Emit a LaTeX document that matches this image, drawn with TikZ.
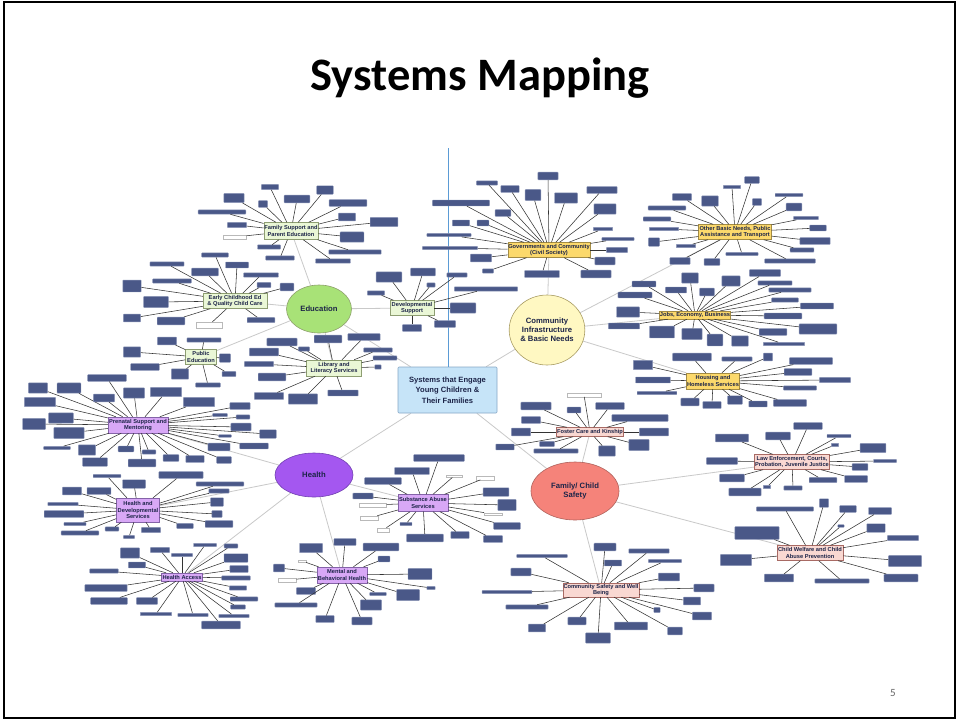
\documentclass[tikz,border=0pt]{standalone}
\usepackage{fontspec}
\setmainfont{Liberation Sans}
\newfontfamily\titlefont{Carlito}
\usetikzlibrary{shapes.geometric}
\pgfdeclarelayer{bg}
\pgfsetlayers{bg,main}
\definecolor{leaffill}{HTML}{4A5888}
\definecolor{leafedge}{HTML}{8E98BA}
\definecolor{linkgray}{HTML}{C9C9C9}
\definecolor{navytext}{HTML}{1C2448}
\definecolor{centerfill}{HTML}{C6E4F8}
\definecolor{centeredge}{HTML}{86A8C6}
\definecolor{edufill}{HTML}{A8E277}
\definecolor{eduedge}{HTML}{8EA06C}
\definecolor{comfill}{HTML}{FFF8C2}
\definecolor{comedge}{HTML}{A89C62}
\definecolor{heafill}{HTML}{A457F0}
\definecolor{heaedge}{HTML}{7040B0}
\definecolor{famfill}{HTML}{F5837A}
\definecolor{famedge}{HTML}{B0625C}
\definecolor{eduhubfill}{HTML}{EAF7D6}
\definecolor{eduhubedge}{HTML}{8E9E72}
\definecolor{comhubfill}{HTML}{FCD96C}
\definecolor{comhubedge}{HTML}{A48C44}
\definecolor{heahubfill}{HTML}{D8A8F6}
\definecolor{heahubedge}{HTML}{8463A8}
\definecolor{famhubfill}{HTML}{F9D8D2}
\definecolor{famhubedge}{HTML}{A86A64}
\definecolor{vline}{HTML}{5B9BD5}
\newcommand\hubleaves[3][leaf]{%
  \foreach \lx/\ly/\lw/\lh [count=\li] in {#3}{%
    \node[#1, minimum width=0.92*\lw pt, minimum height=0.85*\lh pt] (#2-#1-\li) at (\lx,\ly) {};
    \draw[leafline] (#2) -- (#2-#1-\li);
  }}
\begin{document}
\begin{tikzpicture}[x=1pt,y=-1pt,
  leaf/.style={draw=leafedge, fill=leaffill, line width=0.4pt, rounded corners=0.6pt, inner sep=0pt},
  leaflight/.style={draw=gray!55, fill=white, line width=0.35pt, inner sep=0pt},
  leafline/.style={draw=black!80, line width=0.55pt},
  link/.style={draw=linkgray, line width=0.8pt},
  hub/.style={draw, line width=0.45pt, inner sep=0.5pt, align=center, text=navytext,
    font=\bfseries\fontsize{5.7}{6.6}\selectfont},
  eduhub/.style={hub, fill=eduhubfill, draw=eduhubedge},
  comhub/.style={hub, fill=comhubfill, draw=comhubedge},
  heahub/.style={hub, fill=heahubfill, draw=heahubedge},
  famhub/.style={hub, fill=famhubfill, draw=famhubedge},
  cat/.style={ellipse, inner sep=0pt, line width=0.6pt, align=center, text=navytext,
    font=\bfseries\fontsize{7.7}{9.2}\selectfont}]
\useasboundingbox (0,0) rectangle (959,721);
\begin{pgfonlayer}{bg}
\fill[white] (0,0) rectangle (959,721);
\end{pgfonlayer}
\draw[black, line width=1.2pt] (4,2) rectangle (955,718);
\node[font=\titlefont\bfseries\fontsize{46.5}{50}\selectfont] (title) at (480,78) {Systems Mapping};
\node[font=\titlefont\fontsize{11}{12}\selectfont, text=black!60] (pnum) at (893,693) {5};

% centre and categories
\node[draw=centeredge, fill=centerfill, line width=0.6pt, rounded corners=1pt,
  minimum width=99pt, minimum height=46pt, inner sep=0pt, align=center, text=navytext,
  font=\bfseries\fontsize{7.6}{10.5}\selectfont] (center) at (447.5,390)
  {Systems that Engage\\Young Children \&\\Their Families};
\coordinate (vtop) at (448,148);
\draw[vline, line width=0.8pt] (vtop) -- (center.north -| vtop);

\node[cat, fill=edufill, draw=eduedge, minimum width=65pt, minimum height=48pt] (edu) at (319,309) {Education};
\node[cat, fill=comfill, draw=comedge, minimum width=68pt, minimum height=70pt] (com) at (547,330) {Community\\Infrastructure\\\& Basic Needs};
\node[cat, fill=heafill, draw=heaedge, minimum width=78pt, minimum height=44pt] (hea) at (314,475) {Health};
\node[cat, fill=famfill, draw=famedge, minimum width=88pt, minimum height=58pt] (fam) at (575,491) {Family/ Child\\Safety};

% hubs
\node[eduhub, minimum width=53pt, minimum height=17pt] (FSP) at (291,231) {Family Support and\\Parent Education};
\node[eduhub, minimum width=64pt, minimum height=15pt] (ECE) at (235,301) {Early Childhood Ed\\\& Quality Child Care};
\node[eduhub, minimum width=44pt, minimum height=15pt] (DEV) at (412,308) {Developmental\\Support};
\node[eduhub, minimum width=31pt, minimum height=15pt] (PUB) at (201,357) {Public\\Education};
\node[eduhub, minimum width=55pt, minimum height=16pt] (LIB) at (334,368) {Library and\\Literacy Services};
\node[comhub, minimum width=82pt, minimum height=15pt] (GOV) at (549,250) {Governments and Community\\(Civil Society)};
\node[comhub, minimum width=73pt, minimum height=15pt] (OBN) at (735,232) {Other Basic Needs, Public\\Assistance and Transport};
\node[comhub, minimum width=70pt, minimum height=8pt] (JOB) at (695,315) {Jobs, Economy, Business};
\node[comhub, minimum width=52pt, minimum height=16pt] (HOU) at (713,381) {Housing and\\Homeless Services};
\node[heahub, minimum width=60pt, minimum height=16pt] (PRE) at (138,425) {Prenatal Support and\\Mentoring};
\node[heahub, minimum width=43pt, minimum height=24pt] (HDS) at (138,510) {Health and\\Developmental\\Services};
\node[heahub, minimum width=41pt, minimum height=8pt] (HAC) at (182,577) {Health Access};
\node[heahub, minimum width=50pt, minimum height=17pt] (SAB) at (423,503) {Substance Abuse\\Services};
\node[heahub, minimum width=50pt, minimum height=16pt] (MBH) at (342,575) {Mental and\\Behavioral Health};
\node[famhub, minimum width=66pt, minimum height=9pt] (FOS) at (590,432) {Foster Care and Kinship};
\node[famhub, minimum width=74pt, minimum height=15pt] (LAW) at (792,462) {Law Enforcement, Courts,\\Probation, Juvenile Justice};
\node[famhub, minimum width=66pt, minimum height=15pt] (CWA) at (810,553) {Child Welfare and Child\\Abuse Prevention};
\node[famhub, minimum width=76pt, minimum height=14pt] (CSW) at (601,590) {Community Safety and Well\\Being};

% grey links
\begin{pgfonlayer}{bg}
\foreach \a/\b in {center/edu, center/com, center/hea, center/fam,
  edu/FSP, edu/ECE, edu/DEV, edu/PUB, edu/LIB,
  com/GOV, com/OBN, com/JOB, com/HOU,
  hea/PRE, hea/HDS, hea/HAC, hea/SAB, hea/MBH,
  fam/FOS, fam/LAW, fam/CWA, fam/CSW}
  \draw[link] (\a) -- (\b);
\end{pgfonlayer}

% leaves
\hubleaves{FSP}{270/187/19/6, 234/198/22/11, 263/204/10/8, 297/199/28/9, 325/190/18/10, 348/203/41/8, 222/212/52/5, 237/225/21/6, 269/247/25/5, 280/258/31/5, 347/217/19/9, 384/222/30/11, 352/237/26/12, 355/252/57/5, 333/261/38/5}
\hubleaves[leaflight]{FSP}{235/237/25/5}
\hubleaves{ECE}{167/264/37/5, 215/255/29/5, 237/265/25/7, 205/272/29/9, 261/275/38/5, 172/281/42/5, 132/286/20/14, 264/285/15/6, 287/287/15/9, 156/302/27/13, 132/318/19/9, 171/321/30/9, 261/320/30/6}
\hubleaves[leaflight]{ECE}{209/325/28/7}
\hubleaves{PUB}{167/341/21/9, 204/340/37/5, 132/352/19/12, 225/358/12/10, 145/367/31/8, 180/374/19/12, 229/374/15/6, 208/385/27/5}
\hubleaves{DEV}{389/277/28/12, 423/272/27/9, 457/275/22/5, 431/285/9/5, 376/293/19/5, 486/289/69/5, 463/308/28/12, 445/324/23/8, 412/328/21/8}
\hubleaves{LIB}{282/342/33/9, 264/352/32/9, 304/349/12/5, 328/339/30/9, 364/337/35/8, 378/350/31/5, 385/358/26/5, 259/364/32/6, 378/367/7/5, 269/396/32/8, 303/399/32/12, 343/393/33/7, 272/377/30/9}
\hubleaves{GOV}{548/176/22/9, 487/183/23/5, 510/189/20/8, 533/195/17/13, 566/198/25/12, 602/190/33/8, 461/203/62/7, 605/209/24/12, 503/213/17/8, 461/223/19/7, 483/223/13/7, 603/229/21/4, 449/235/48/4, 618/239/35/4, 450/248/60/4, 617/250/23/6, 481/258/23/9, 605/261/22/9, 488/271/12/5, 542/274/38/8, 596/274/33/9}
\hubleaves{OBN}{752/180/16/8, 732/187/19/4, 682/197/21/8, 710/201/18/12, 757/202/10/8, 789/195/30/4, 667/208/41/5, 794/207/17/9, 657/219/30/5, 806/218/27/4, 664/229/32/4, 818/228/18/7, 654/242/12/10, 815/241/33/8, 686/246/21/4, 802/250/26/5, 680/261/22/8, 712/262/17/8, 742/254/35/4, 790/261/55/5}
\hubleaves{JOB}{765/273/34/8, 690/278/18/12, 731/281/20/12, 775/283/37/5, 644/284/26/7, 676/290/23/7, 707/292/16/9, 790/290/46/5, 635/295/37/7, 785/300/29/5, 817/306/36/7, 628/312/25/12, 783/316/41/7, 624/326/34/7, 662/332/27/14, 692/334/22/13, 715/340/17/14, 740/341/18/12, 773/332/30/8, 818/329/41/12, 784/344/45/4}
\hubleaves{HOU}{692/357/42/9, 737/359/33/5, 768/357/10/9, 811/361/47/8, 643/365/21/11, 798/372/30/8, 653/380/38/7, 835/380/34/6, 800/388/36/5, 657/393/43/4, 690/402/20/9, 712/405/20/8, 735/400/16/10, 758/404/20/7, 790/403/36/8}
\hubleaves{PRE}{107/378/42/8, 38/388/21/12, 69/388/26/12, 134/393/23/12, 166/392/34/11, 199/402/34/11, 104/398/23/9, 40/402/34/11, 240/406/22/8, 61/418/27/12, 34/424/25/13, 220/415/16/4, 243/417/15/5, 69/433/33/13, 241/427/22/9, 268/434/18/10, 225/436/14/3, 57/448/29/4, 87/450/19/12, 126/449/17/7, 219/447/24/9, 254/446/31/7, 149/452/15/5, 95/462/27/10, 142/463/30/9, 171/458/17/8, 195/459/20/8, 224/460/16/8}
\hubleaves{HDS}{107/476/30/4, 181/475/48/8, 134/484/25/10, 220/484/52/5, 72/491/21/9, 99/491/26/8, 219/491/22/5, 63/504/33/4, 217/502/14/10, 64/514/43/8, 217/514/11/8, 75/524/24/4, 219/524/30/8, 185/526/18/6, 80/533/41/5, 112/529/15/5, 151/530/21/6, 129/537/12/4}
\hubleaves{HAC}{205/545/25/4, 231/546/15/5, 130/553/21/12, 160/550/21/6, 182/555/23/4, 236/558/26/10, 137/565/19/7, 239/569/20/8, 104/571/31/5, 236/578/31/5, 106/588/46/8, 238/588/19/5, 109/601/40/8, 147/601/23/8, 244/599/30/5, 238/607/16/5, 156/614/34/4, 193/615/33/4, 234/616/33/4, 221/625/42/9}
\hubleaves{SAB}{439/458/55/8, 412/471/38/8, 496/492/28/10, 507/505/20/13, 507/526/29/8, 460/535/20/8, 493/539/21/8, 425/538/40/9, 406/524/13/4, 383/481/40/8, 363/496/22/7}
\hubleaves[leaflight]{SAB}{454/476/18/3, 485/478/19/4, 493/514/19/3, 373/505/29/4, 369/518/20/5, 383/530/13/5}
\hubleaves{MBH}{345/542/24/8, 311/548/25/11, 381/547/39/9, 384/559/13/7, 279/568/12/9, 420/574/26/13, 431/588/9/4, 306/591/21/8, 378/594/18/4, 408/595/25/13, 296/605/46/5, 371/605/23/12, 325/619/20/8, 362/621/22/9}
\hubleaves[leaflight]{MBH}{302/561/9/3, 287/580/20/4}
\hubleaves{FOS}{536/406/33/9, 574/410/15/7, 610/406/31/8, 531/420/21/8, 640/418/61/8, 521/432/21/9, 654/432/32/9, 505/447/20/7, 547/444/16/6, 556/451/48/5, 607/451/18/12, 639/445/22/13}
\hubleaves[leaflight]{FOS}{584/395/37/4}
\hubleaves{LAW}{808/426/31/8, 778/436/27/9, 732/438/36/9, 839/436/26/4, 835/445/8/4, 873/448/28/11, 722/461/34/8, 885/461/25/4, 860/467/17/8, 732/478/27/9, 823/480/30/6, 856/479/25/8, 745/492/35/9, 767/487/8/4, 793/488/20/5}
\hubleaves{CWA}{824/503/10/10, 785/509/62/5, 848/509/18/8, 880/511/25/8, 841/526/7/3, 876/528/20/10, 757/533/48/15, 903/538/34/6, 736/560/34/13, 905/561/36/13, 779/578/32/9, 842/581/59/5, 901/578/37/9}
\hubleaves{CSW}{605/547/24/9, 649/551/44/5, 542/556/55/4, 613/563/19/7, 665/561/36/4, 521/572/22/9, 669/577/23/9, 704/588/22/9, 507/592/54/4, 692/601/19/9, 527/607/46/5, 657/610/7/6, 702/616/21/9, 577/621/20/9, 631/626/36/9, 537/628/19/9, 675/631/16/9, 598/638/27/12}
\end{tikzpicture}
\end{document}
